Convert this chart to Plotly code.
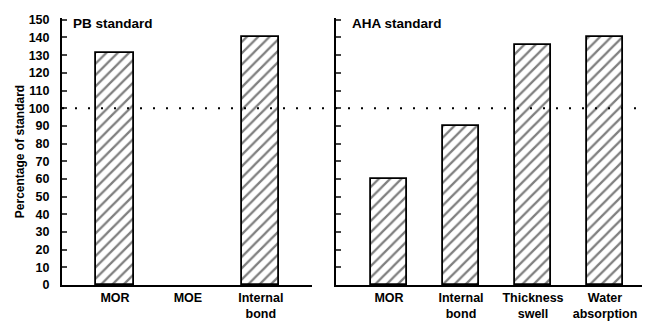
import plotly.graph_objects as go

pb_categories = ["MOR", "MOE", "Internal<br>bond"]
pb_values = [131, None, 140]
aha_categories = ["MOR", "Internal<br>bond", "Thickness<br>swell", "Water<br>absorption"]
aha_values = [60, 90, 136, 140]
y_ticks = list(range(0, 151, 10))
standard_level = 100

FONT = "Liberation Sans"
fig = go.Figure()

bar_style = dict(
    marker=dict(color="white", line=dict(color="black", width=1.8),
                pattern=dict(shape="/", fgcolor="black", bgcolor="white", size=8, solidity=0.28)),
    width=0.51, showlegend=False, hoverinfo="skip",
)
pb_x = list(range(len(pb_categories)))
aha_x = list(range(len(aha_categories)))
fig.add_trace(go.Bar(x=pb_x, y=pb_values, xaxis="x", yaxis="y", **bar_style))
fig.add_trace(go.Bar(x=aha_x, y=aha_values, xaxis="x2", yaxis="y2", **bar_style))

tick_font = dict(family=FONT, size=12.5, color="black", weight="bold")
yax = dict(range=[0, 151], tickvals=y_ticks, ticks="inside", ticklen=5, tickwidth=1.8,
           showline=True, linewidth=2, linecolor="black", showgrid=False, zeroline=False,
           tickfont=tick_font, automargin=False, ticklabelstandoff=8)
xax = dict(showline=True, linewidth=2, linecolor="black", showgrid=False, zeroline=False,
           ticks="", tickfont=tick_font, automargin=False)

# page body has an 8px default margin, so the figure is sized/offset accordingly
fig.update_layout(
    width=642, height=316,
    margin=dict(l=54, r=0, t=10, b=39),
    plot_bgcolor="white", paper_bgcolor="white",
    bargap=0,
    xaxis=dict(domain=[0, 0.425], range=[-0.726, 2.70], tickvals=pb_x, ticktext=pb_categories,
               anchor="y", **xax),
    xaxis2=dict(domain=[0.466, 1.0], range=[-0.736, 3.625], tickvals=aha_x, ticktext=aha_categories,
                anchor="y2", **xax),
    yaxis=dict(domain=[0, 1], anchor="x", title=dict(text="Percentage of standard",
               font=dict(family=FONT, size=12, color="black", weight="bold"), standoff=1), **yax),
    yaxis2=dict(domain=[0, 1], anchor="x2", showticklabels=False, **yax),
)

fig.add_shape(type="line", xref="paper", yref="y", x0=0, x1=1, y0=standard_level, y1=standard_level,
              line=dict(color="black", width=2, dash="2px,11px"))

fig.add_annotation(text="PB standard", xref="x domain", yref="y", x=0.035, y=148,
                   xanchor="left", yanchor="middle", showarrow=False,
                   font=dict(family=FONT, size=13.5, color="black", weight="bold"))
fig.add_annotation(text="AHA standard", xref="x2 domain", yref="y2", x=0.045, y=148,
                   xanchor="left", yanchor="middle", showarrow=False,
                   font=dict(family=FONT, size=13.5, color="black", weight="bold"))

fig.write_html("out.html")
